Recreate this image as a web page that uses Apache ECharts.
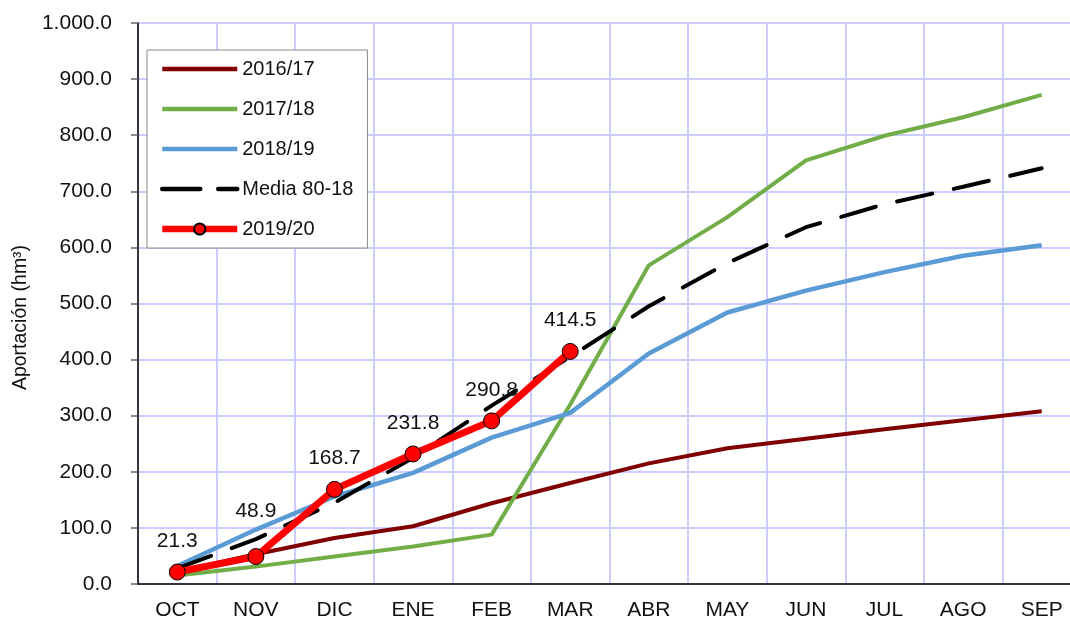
<!DOCTYPE html>
<html>
<head>
<meta charset="utf-8">
<script src="https://cdn.jsdelivr.net/npm/echarts@6/dist/echarts.min.js"></script>
<style>
  html, body { margin: 0; padding: 0; background: #fff; }
  #main { width: 1070px; height: 620px; }
</style>
</head>
<body>
<div id="main"></div>
<script>
const months = ['OCT', 'NOV', 'DIC', 'ENE', 'FEB', 'MAR', 'ABR', 'MAY', 'JUN', 'JUL', 'AGO', 'SEP']
const yTickLabels = ['0.0', '100.0', '200.0', '300.0', '400.0', '500.0', '600.0', '700.0', '800.0', '900.0', '1.000.0']

const s2016 = [22, 53, 82, 103, 144, 180, 215, 242, 259, 276, 292, 308]
const s2017 = [15, 31, 49, 67, 88, 320, 568, 654, 755, 799, 832, 872]
const s2018 = [32, 97, 156, 198, 261, 305, 411, 484, 523, 556, 585, 604]
const media = [28, 80, 145, 225, 318, 405, 495, 572, 636, 677, 708, 741]
const s2019 = [21.3, 48.9, 168.7, 231.8, 290.8, 414.5, null, null, null, null, null, null]

const font = 'Liberation Sans, Arial, sans-serif'

// la etiqueta de NOV va más alta que las demás
const s2019Data = s2019.map((v, i) => i === 1 ? { value: v, label: { distance: 26 } } : v)

// leyenda: sin marcador salvo en 2019/20
const noMark = { opacity: 0 }

const option = {
  animation: false,
  textStyle: { fontFamily: font },
  grid: {
    left: 138,
    top: 23,
    width: 943,
    bottom: 36,
    outerBoundsMode: 'none',
    show: true,
    borderColor: '#a4a4cc',
    borderWidth: 1.5
  },
  legend: {
    orient: 'vertical',
    left: 147,
    top: 50,
    padding: [9, 14, 9, 12],
    itemWidth: 75,
    itemHeight: 14,
    itemGap: 20,
    backgroundColor: '#fff',
    borderColor: '#8a8a8a',
    borderWidth: 1,
    textStyle: { fontSize: 20, color: '#111', fontFamily: font },
    data: [
      { name: '2016/17', itemStyle: noMark, lineStyle: { width: 4.5 } },
      { name: '2017/18', itemStyle: noMark, lineStyle: { width: 4.5 } },
      { name: '2018/19', itemStyle: noMark, lineStyle: { width: 4.5 } },
      { name: 'Media 80-18', itemStyle: noMark, lineStyle: { width: 4.5, type: [38, 18], cap: 'round' } },
      { name: '2019/20', lineStyle: { width: 6.5 } }
    ]
  },
  xAxis: {
    type: 'category',
    data: months,
    boundaryGap: true,
    axisLine: { lineStyle: { color: '#000', width: 1.5 } },
    axisTick: { length: 7, lineStyle: { color: '#666', width: 1.5 } },
    axisLabel: { fontSize: 21, color: '#111', margin: 16, fontFamily: font },
    splitLine: { show: true, lineStyle: { color: '#ccccff', width: 2 } }
  },
  yAxis: {
    type: 'value',
    min: 0,
    max: 1000,
    interval: 100,
    name: 'Aportación (hm³)',
    nameLocation: 'middle',
    nameGap: 104,
    nameTextStyle: { fontSize: 19.5, color: '#111', fontFamily: font, padding: [0, 28, 0, 0] },
    axisLine: { show: true, lineStyle: { color: '#000', width: 1.5 } },
    axisTick: { show: true, length: 7, lineStyle: { color: '#666', width: 1.5 } },
    axisLabel: {
      fontSize: 21,
      color: '#111',
      margin: 26,
      fontFamily: font,
      formatter: (v) => yTickLabels[Math.round(v / 100)]
    },
    splitLine: { show: true, lineStyle: { color: '#ccccff', width: 2 } }
  },
  series: [
    {
      name: '2016/17',
      type: 'line',
      data: s2016,
      symbol: 'none',
      lineStyle: { color: '#800000', width: 4 },
      itemStyle: { color: '#800000' }
    },
    {
      name: '2017/18',
      type: 'line',
      data: s2017,
      symbol: 'none',
      lineStyle: { color: '#72ae48', width: 4 },
      itemStyle: { color: '#72ae48' }
    },
    {
      name: '2018/19',
      type: 'line',
      data: s2018,
      symbol: 'none',
      lineStyle: { color: '#5b9bd5', width: 4.5 },
      itemStyle: { color: '#5b9bd5' }
    },
    {
      name: 'Media 80-18',
      type: 'line',
      data: media,
      symbol: 'none',
      lineStyle: { color: '#000', width: 4, type: [36, 22], cap: 'round' },
      itemStyle: { color: '#000' }
    },
    {
      name: '2019/20',
      type: 'line',
      data: s2019Data,
      symbol: 'circle',
      symbolSize: 16,
      lineStyle: { color: '#ff0000', width: 7 },
      itemStyle: { color: '#ff0000', borderColor: '#000', borderWidth: 1 },
      label: {
        show: true,
        position: 'top',
        distance: 12,
        fontSize: 21,
        color: '#111',
        fontFamily: font,
        formatter: (p) => p.value.toFixed(1)
      }
    }
  ]
}

const myChart = echarts.init(document.getElementById('main'))
option && myChart.setOption(option)
</script>
</body>
</html>
